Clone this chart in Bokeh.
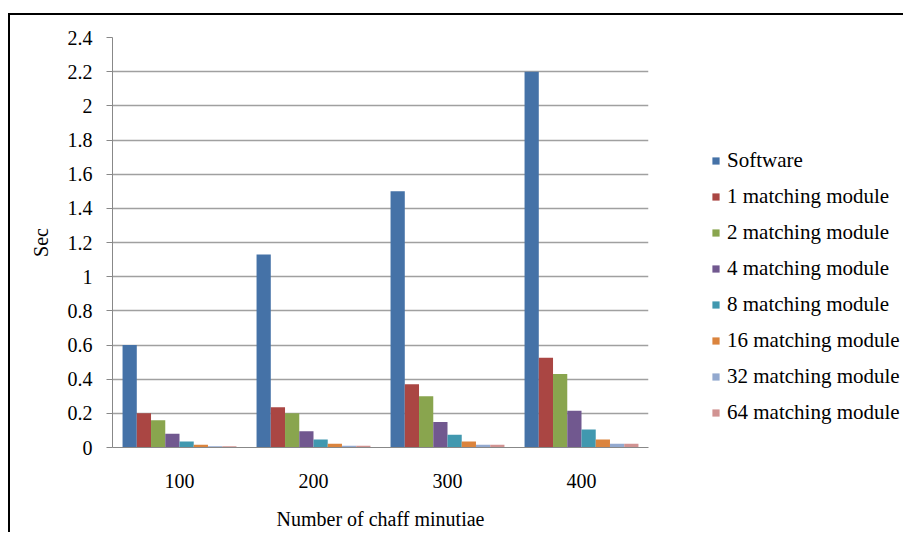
from bokeh.plotting import figure
from bokeh.layouts import row
from bokeh.models import (FactorRange, Range1d, FixedTicker, Legend, LegendItem,
                          ColumnDataSource)
from bokeh.transform import dodge
from bokeh.embed import file_html
from bokeh.resources import INLINE

# ---------------- data ----------------
categories = ["100", "200", "300", "400"]
series_names = ["Software", "1 matching module", "2 matching module",
                "4 matching module", "8 matching module", "16 matching module",
                "32 matching module", "64 matching module"]
software = [0.60, 1.13, 1.50, 2.20]
mod1 = [0.20, 0.235, 0.37, 0.525]
mod2 = [0.16, 0.20, 0.30, 0.43]
mod4 = [0.08, 0.095, 0.15, 0.215]
mod8 = [0.035, 0.047, 0.074, 0.105]
mod16 = [0.016, 0.022, 0.035, 0.047]
mod32 = [0.008, 0.010, 0.016, 0.022]
mod64 = [0.008, 0.010, 0.016, 0.022]
y_ticks = [0, 0.2, 0.4, 0.6, 0.8, 1.0, 1.2, 1.4, 1.6, 1.8, 2.0, 2.2, 2.4]

colors = ["#4572A7", "#AA4643", "#89A54E", "#71588F",
          "#4198AF", "#DB843D", "#93A9CF", "#D19392"]

keys = ["software", "mod1", "mod2", "mod4", "mod8", "mod16", "mod32", "mod64"]
source = ColumnDataSource(dict(cat=categories, software=software, mod1=mod1,
                               mod2=mod2, mod4=mod4, mod8=mod8, mod16=mod16,
                               mod32=mod32, mod64=mod64))

FONT = "Liberation Serif"

p = figure(x_range=FactorRange(*categories, range_padding=0),
           y_range=Range1d(0, 2.4),
           frame_width=536, frame_height=410,
           min_border_left=102, min_border_right=20,
           min_border_top=22, min_border_bottom=84,
           output_backend="svg", toolbar_location=None)

p.outline_line_color = None
p.background_fill_color = "white"
p.border_fill_color = "white"

group_span = 0.85
bw = group_span / len(keys)
for i, (k, c) in enumerate(zip(keys, colors)):
    off = -group_span / 2 + bw * (i + 0.5)
    p.vbar(x=dodge("cat", off, range=p.x_range), top=k, width=bw,
           source=source, fill_color=c, line_color=None)

# grid
p.xgrid.grid_line_color = None
p.ygrid.grid_line_color = "#A0A0A0"
p.ygrid.grid_line_width = 1.3
p.ygrid.ticker = FixedTicker(ticks=y_ticks)

# y axis
p.yaxis.ticker = FixedTicker(ticks=y_ticks)
p.yaxis.major_label_overrides = {t: f"{t:g}" for t in y_ticks}
p.yaxis.axis_line_color = "#888888"
p.yaxis.major_tick_line_color = "#888888"
p.yaxis.major_tick_out = 6
p.yaxis.major_tick_in = 0
p.yaxis.minor_tick_line_color = None
p.yaxis.major_label_standoff = 14
p.yaxis.major_label_text_font = FONT
p.yaxis.major_label_text_font_size = "20px"
p.yaxis.major_label_text_color = "black"
p.yaxis.axis_label = "Sec"
p.yaxis.axis_label_text_font = FONT
p.yaxis.axis_label_text_font_size = "20px"
p.yaxis.axis_label_text_font_style = "normal"
p.yaxis.axis_label_text_color = "black"
p.yaxis.axis_label_standoff = 13

# x axis
p.xaxis.axis_line_color = "#888888"
p.xaxis.major_tick_line_color = None
p.xaxis.major_tick_out = 0
p.xaxis.major_tick_in = 0
p.xaxis.major_label_standoff = 26
p.xaxis.major_label_text_font = FONT
p.xaxis.major_label_text_font_size = "20px"
p.xaxis.major_label_text_color = "black"
p.xaxis.axis_label = "Number of chaff minutiae"
p.xaxis.axis_label_text_font = FONT
p.xaxis.axis_label_text_font_size = "20px"
p.xaxis.axis_label_text_font_style = "normal"
p.xaxis.axis_label_text_color = "black"
p.xaxis.axis_label_standoff = 17

# ---------------- legend panel ----------------
leg = figure(x_range=FactorRange(*categories), y_range=Range1d(0, 2.4),
             width=235, height=516,
             min_border=0, x_axis_location=None, y_axis_location=None,
             output_backend="svg", toolbar_location=None)
leg.outline_line_color = None
leg.xgrid.visible = False
leg.ygrid.visible = False
leg.border_fill_color = "white"
leg_renderers = []
for k, c in zip(keys, colors):
    r = leg.vbar(x="cat", top=k, width=0.1, source=source,
                 fill_color=c, line_color=None)
    r.visible = False
    leg_renderers.append(r)

legend = Legend(items=[LegendItem(label=n, renderers=[r])
                       for n, r in zip(series_names, leg_renderers)],
                location=(43, 21), orientation="vertical",
                glyph_width=9, glyph_height=9, label_standoff=7,
                spacing=11, label_height=24, padding=0, margin=0,
                border_line_color=None, background_fill_alpha=0,
                inactive_fill_alpha=0,
                label_text_font=FONT, label_text_font_size="21px",
                label_text_color="black")
leg.add_layout(legend)

layout = row(p, leg, spacing=0)
layout.styles = {"border-left": "2px solid black", "border-top": "2px solid black",
                 "margin-left": "8px", "margin-top": "13px"}

open("out.html", "w").write(file_html(layout, INLINE))
